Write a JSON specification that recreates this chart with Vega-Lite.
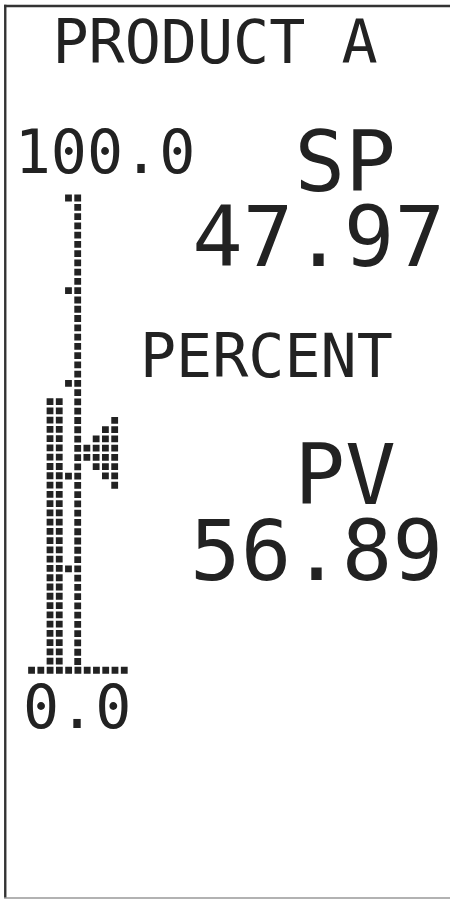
{
  "$schema": "https://vega.github.io/schema/vega-lite/v6.json",
  "width": 452,
  "height": 900,
  "padding": 0,
  "autosize": {"type": "fit", "contains": "padding"},
  "background": "white",
  "view": {"stroke": null},
  "config": {"text": {"font": "DejaVu Sans Mono", "color": "#222"}},
  "data": {"values": [{"product": "PRODUCT A", "units": "PERCENT", "sp": 47.97, "pv": 56.89, "sp_marker": 46.05, "min": 0, "max": 100}]},
  "layer": [
    {
      "mark": {"type": "rule", "color": "#333", "strokeWidth": 2.4},
      "encoding": {
        "x": {"datum": -2.85, "type": "quantitative", "scale": {"domain": [-3.4196, 45.34], "nice": false, "zero": false}, "axis": null},
        "y": {"datum": 140.9, "type": "quantitative", "scale": {"domain": [-48.438, 141.93], "nice": false, "zero": false}, "axis": null},
        "y2": {"datum": -48.23}
      }
    },
    {
      "mark": {"type": "rule", "color": "#333", "strokeWidth": 2.4},
      "encoding": {
        "x": {"datum": -2.98, "type": "quantitative", "scale": {"domain": [-3.4196, 45.34], "nice": false, "zero": false}, "axis": null},
        "x2": {"datum": 45.34},
        "y": {"datum": 140.66, "type": "quantitative", "scale": {"domain": [-48.438, 141.93], "nice": false, "zero": false}, "axis": null}
      }
    },
    {
      "mark": {"type": "rule", "color": "#999", "strokeWidth": 1.5},
      "encoding": {
        "x": {"datum": -2.98, "type": "quantitative", "scale": {"domain": [-3.4196, 45.34], "nice": false, "zero": false}, "axis": null},
        "x2": {"datum": 45.34},
        "y": {"datum": -48.23, "type": "quantitative", "scale": {"domain": [-48.438, 141.93], "nice": false, "zero": false}, "axis": null}
      }
    },
    {
      "mark": {"type": "rule", "color": "#222", "strokeWidth": 6.8, "strokeCap": "square", "strokeDash": [0, 9.27]},
      "encoding": {
        "x": {"datum": 0, "type": "quantitative", "scale": {"domain": [-3.4196, 45.34], "nice": false, "zero": false}, "axis": null},
        "x2": {"datum": 10.3},
        "y": {"field": "min", "type": "quantitative", "scale": {"domain": [-48.438, 141.93], "nice": false, "zero": false}, "axis": null}
      }
    },
    {
      "mark": {"type": "rule", "color": "#222", "strokeWidth": 6.8, "strokeCap": "square", "strokeDash": [0, 9.27]},
      "encoding": {
        "x": {"datum": 5, "type": "quantitative", "scale": {"domain": [-3.4196, 45.34], "nice": false, "zero": false}, "axis": null},
        "y": {"field": "max", "type": "quantitative", "scale": {"domain": [-48.438, 141.93], "nice": false, "zero": false}, "axis": null},
        "y2": {"field": "min"}
      }
    },
    {
      "mark": {"type": "rule", "color": "#222", "strokeWidth": 6.8, "strokeCap": "square", "strokeDash": [0, 92.7, 0, 92.7, 0, 92.7, 0, 92.7, 0, 200]},
      "encoding": {
        "x": {"datum": 4, "type": "quantitative", "scale": {"domain": [-3.4196, 45.34], "nice": false, "zero": false}, "axis": null},
        "y": {"field": "max", "type": "quantitative", "scale": {"domain": [-48.438, 141.93], "nice": false, "zero": false}, "axis": null},
        "y2": {"field": "min"}
      }
    },
    {
      "mark": {"type": "rule", "color": "#222", "strokeWidth": 6.8, "strokeCap": "square", "strokeDash": [0, 9.27]},
      "encoding": {
        "x": {"datum": 2, "type": "quantitative", "scale": {"domain": [-3.4196, 45.34], "nice": false, "zero": false}, "axis": null},
        "y": {"field": "pv", "type": "quantitative", "scale": {"domain": [-48.438, 141.93], "nice": false, "zero": false}, "axis": null},
        "y2": {"field": "min"}
      }
    },
    {
      "mark": {"type": "rule", "color": "#222", "strokeWidth": 6.8, "strokeCap": "square", "strokeDash": [0, 9.27]},
      "encoding": {
        "x": {"datum": 3, "type": "quantitative", "scale": {"domain": [-3.4196, 45.34], "nice": false, "zero": false}, "axis": null},
        "y": {"field": "pv", "type": "quantitative", "scale": {"domain": [-48.438, 141.93], "nice": false, "zero": false}, "axis": null},
        "y2": {"field": "min"}
      }
    },
    {
      "mark": {"type": "point", "filled": true, "opacity": 1, "color": "#222", "strokeWidth": 0, "size": 343.73,
        "shape": "M-1.867,-0.867h0.734v0.734h-0.734zM-1.867,0.133h0.734v0.734h-0.734zM-0.867,-1.867h0.734v0.734h-0.734zM-0.867,-0.867h0.734v0.734h-0.734zM-0.867,0.133h0.734v0.734h-0.734zM-0.867,1.133h0.734v0.734h-0.734zM0.133,-2.867h0.734v0.734h-0.734zM0.133,-1.867h0.734v0.734h-0.734zM0.133,-0.867h0.734v0.734h-0.734zM0.133,0.133h0.734v0.734h-0.734zM0.133,1.133h0.734v0.734h-0.734zM0.133,2.133h0.734v0.734h-0.734zM1.133,-3.867h0.734v0.734h-0.734zM1.133,-2.867h0.734v0.734h-0.734zM1.133,-1.867h0.734v0.734h-0.734zM1.133,-0.867h0.734v0.734h-0.734zM1.133,0.133h0.734v0.734h-0.734zM1.133,1.133h0.734v0.734h-0.734zM1.133,2.133h0.734v0.734h-0.734zM1.133,3.133h0.734v0.734h-0.734z"},
      "encoding": {
        "x": {"datum": 7.5, "type": "quantitative", "scale": {"domain": [-3.4196, 45.34], "nice": false, "zero": false}, "axis": null},
        "y": {"field": "sp_marker", "type": "quantitative", "scale": {"domain": [-48.438, 141.93], "nice": false, "zero": false}, "axis": null}
      }
    },
    {
      "mark": {"type": "text", "fontSize": 60, "align": "center", "baseline": "alphabetic"},
      "encoding": {
        "x": {"datum": 19.88, "type": "quantitative", "scale": {"domain": [-3.4196, 45.34], "nice": false, "zero": false}, "axis": null},
        "y": {"datum": 128.67, "type": "quantitative", "scale": {"domain": [-48.438, 141.93], "nice": false, "zero": false}, "axis": null},
        "text": {"field": "product"}
      }
    },
    {
      "mark": {"type": "text", "fontSize": 60, "align": "center", "baseline": "alphabetic", "dy": -25},
      "encoding": {
        "x": {"datum": 7.96, "type": "quantitative", "scale": {"domain": [-3.4196, 45.34], "nice": false, "zero": false}, "axis": null},
        "y": {"field": "max", "type": "quantitative", "scale": {"domain": [-48.438, 141.93], "nice": false, "zero": false}, "axis": null},
        "text": {"field": "max", "format": ".1f"}
      }
    },
    {
      "mark": {"type": "text", "fontSize": 60, "align": "center", "baseline": "alphabetic", "dy": 58},
      "encoding": {
        "x": {"datum": 4.94, "type": "quantitative", "scale": {"domain": [-3.4196, 45.34], "nice": false, "zero": false}, "axis": null},
        "y": {"field": "min", "type": "quantitative", "scale": {"domain": [-48.438, 141.93], "nice": false, "zero": false}, "axis": null},
        "text": {"field": "min", "format": ".1f"}
      }
    },
    {
      "mark": {"type": "text", "fontSize": 60, "align": "center", "baseline": "alphabetic"},
      "encoding": {
        "x": {"datum": 25.44, "type": "quantitative", "scale": {"domain": [-3.4196, 45.34], "nice": false, "zero": false}, "axis": null},
        "y": {"datum": 62.19, "type": "quantitative", "scale": {"domain": [-48.438, 141.93], "nice": false, "zero": false}, "axis": null},
        "text": {"field": "units"}
      }
    },
    {
      "mark": {"type": "text", "fontSize": 84, "align": "center", "baseline": "alphabetic"},
      "encoding": {
        "x": {"datum": 33.98, "type": "quantitative", "scale": {"domain": [-3.4196, 45.34], "nice": false, "zero": false}, "axis": null},
        "y": {"datum": 101.42, "type": "quantitative", "scale": {"domain": [-48.438, 141.93], "nice": false, "zero": false}, "axis": null},
        "text": {"value": "SP"}
      }
    },
    {
      "mark": {"type": "text", "fontSize": 84, "align": "center", "baseline": "alphabetic"},
      "encoding": {
        "x": {"datum": 31.1, "type": "quantitative", "scale": {"domain": [-3.4196, 45.34], "nice": false, "zero": false}, "axis": null},
        "y": {"datum": 85.67, "type": "quantitative", "scale": {"domain": [-48.438, 141.93], "nice": false, "zero": false}, "axis": null},
        "text": {"field": "sp", "format": ".2f"}
      }
    },
    {
      "mark": {"type": "text", "fontSize": 84, "align": "center", "baseline": "alphabetic"},
      "encoding": {
        "x": {"datum": 33.98, "type": "quantitative", "scale": {"domain": [-3.4196, 45.34], "nice": false, "zero": false}, "axis": null},
        "y": {"datum": 35.11, "type": "quantitative", "scale": {"domain": [-48.438, 141.93], "nice": false, "zero": false}, "axis": null},
        "text": {"value": "PV"}
      }
    },
    {
      "mark": {"type": "text", "fontSize": 84, "align": "center", "baseline": "alphabetic"},
      "encoding": {
        "x": {"datum": 30.88, "type": "quantitative", "scale": {"domain": [-3.4196, 45.34], "nice": false, "zero": false}, "axis": null},
        "y": {"datum": 19.04, "type": "quantitative", "scale": {"domain": [-48.438, 141.93], "nice": false, "zero": false}, "axis": null},
        "text": {"field": "pv", "format": ".2f"}
      }
    }
  ]
}
